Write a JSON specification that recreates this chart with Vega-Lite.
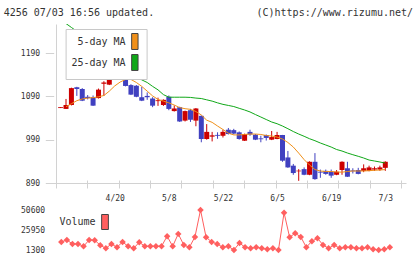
{
  "$schema": "https://vega.github.io/schema/vega-lite/v6.json",
  "background": "#ffffff",
  "padding": {"left": 3, "top": 8, "right": 5, "bottom": 2},
  "title": {
    "text": "4256 07/03 16:56 updated.\u00a0\u00a0\u00a0\u00a0\u00a0\u00a0\u00a0\u00a0\u00a0\u00a0\u00a0\u00a0\u00a0\u00a0\u00a0\u00a0\u00a0(C)https://www.rizumu.net/",
    "anchor": "start",
    "frame": "bounds",
    "dx": -16.7,
    "offset": 6,
    "font": "DejaVu Sans Mono",
    "fontSize": 10,
    "fontWeight": "normal",
    "color": "#333333"
  },
  "config": {
    "view": {"stroke": null},
    "axis": {
      "labelFont": "DejaVu Sans Mono",
      "labelFontSize": 8,
      "labelColor": "#333333",
      "labelOverlap": false,
      "tickColor": "#d2d2d2",
      "gridColor": "#d2d2d2",
      "domainColor": "#d2d2d2",
      "tickWidth": 1,
      "gridWidth": 1
    },
    "legend": {"labelFont": "DejaVu Sans Mono", "labelFontSize": 10, "labelColor": "#333333"}
  },
  "datasets": {
    "prices": [
      {"i": -1, "o": 1063, "h": 1065, "l": 1063, "c": 1065},
      {"i": 0, "o": 1061, "h": 1084, "l": 1061, "c": 1070, "ma5": 1066, "ma25": 1258, "v": 11200},
      {"i": 1, "o": 1070, "h": 1110, "l": 1069, "c": 1109, "ma5": 1073, "ma25": 1249, "v": 13700},
      {"i": 2, "o": 1111, "h": 1112, "l": 1091, "c": 1107, "ma5": 1080, "ma25": 1240, "v": 8750},
      {"i": 3, "o": 1107, "h": 1109, "l": 1079, "c": 1080, "ma5": 1084, "ma25": 1230, "v": 8750},
      {"i": 4, "o": 1089, "h": 1093, "l": 1083, "c": 1086, "ma5": 1086, "ma25": 1221, "v": 5900},
      {"i": 5, "o": 1088, "h": 1092, "l": 1068, "c": 1068.5, "ma5": 1087, "ma25": 1212, "v": 13700},
      {"i": 6, "o": 1086, "h": 1108, "l": 1085, "c": 1105.5, "ma5": 1089, "ma25": 1202, "v": 13350},
      {"i": 7, "o": 1119, "h": 1125, "l": 1091, "c": 1122, "ma5": 1092, "ma25": 1193, "v": 7140},
      {"i": 8, "o": 1117, "h": 1136, "l": 1116, "c": 1134, "ma5": 1102, "ma25": 1184, "v": 3400},
      {"i": 9, "o": 1137.6, "h": 1149, "l": 1137, "c": 1147, "ma5": 1114, "ma25": 1174, "v": 8750},
      {"i": 10, "o": 1141.5, "h": 1148, "l": 1131, "c": 1132, "ma5": 1123, "ma25": 1165, "v": 4650},
      {"i": 11, "o": 1130, "h": 1134, "l": 1113, "c": 1114, "ma5": 1129, "ma25": 1155, "v": 11240},
      {"i": 12, "o": 1116, "h": 1118, "l": 1093, "c": 1094, "ma5": 1129, "ma25": 1146, "v": 5900},
      {"i": 13, "o": 1114.5, "h": 1116, "l": 1088, "c": 1089, "ma5": 1122, "ma25": 1136, "v": 3400},
      {"i": 14, "o": 1088, "h": 1112, "l": 1079, "c": 1080, "ma5": 1113, "ma25": 1128, "v": 10860},
      {"i": 15, "o": 1091, "h": 1099, "l": 1082, "c": 1088, "ma5": 1102, "ma25": 1122, "v": 5900},
      {"i": 16, "o": 1085, "h": 1088, "l": 1065, "c": 1068.5, "ma5": 1091, "ma25": 1113, "v": 5900},
      {"i": 17, "o": 1079, "h": 1087, "l": 1068, "c": 1081, "ma5": 1083, "ma25": 1105, "v": 5900},
      {"i": 18, "o": 1070, "h": 1083, "l": 1068, "c": 1082, "ma5": 1079, "ma25": 1094, "v": 5900},
      {"i": 19, "o": 1089, "h": 1092, "l": 1058, "c": 1061, "ma5": 1075, "ma25": 1088, "v": 18300},
      {"i": 20, "o": 1056, "h": 1069, "l": 1055, "c": 1062, "ma5": 1070, "ma25": 1088, "v": 5900},
      {"i": 21, "o": 1065, "h": 1066, "l": 1031, "c": 1032, "ma5": 1064, "ma25": 1088, "v": 21170},
      {"i": 22, "o": 1034, "h": 1057, "l": 1032, "c": 1056, "ma5": 1061.5, "ma25": 1088, "v": 7500},
      {"i": 23, "o": 1058, "h": 1061, "l": 1031, "c": 1036, "ma5": 1060, "ma25": 1087.5, "v": 4650},
      {"i": 24, "o": 1034, "h": 1063, "l": 1021, "c": 1062, "ma5": 1055, "ma25": 1086, "v": 17450},
      {"i": 25, "o": 1045, "h": 1046, "l": 984, "c": 991.5, "ma5": 1047, "ma25": 1085, "v": 50600},
      {"i": 26, "o": 991.5, "h": 1026, "l": 990, "c": 1008, "ma5": 1035, "ma25": 1082, "v": 17070},
      {"i": 27, "o": 997, "h": 1008, "l": 986, "c": 1000, "ma5": 1030, "ma25": 1079, "v": 11240},
      {"i": 28, "o": 1001, "h": 1007, "l": 992, "c": 999, "ma5": 1021.5, "ma25": 1075, "v": 8750},
      {"i": 29, "o": 999, "h": 1013, "l": 995, "c": 1008, "ma5": 1013.5, "ma25": 1071.5, "v": 4650},
      {"i": 30, "o": 1013, "h": 1017, "l": 1002, "c": 1003, "ma5": 1005, "ma25": 1069, "v": 5900},
      {"i": 31, "o": 1012, "h": 1015, "l": 1002, "c": 1004, "ma5": 1001, "ma25": 1066.5, "v": 1300},
      {"i": 32, "o": 1007, "h": 1009, "l": 990, "c": 991.5, "ma5": 1001, "ma25": 1062.4, "v": 10000},
      {"i": 33, "o": 987.6, "h": 1004, "l": 987, "c": 1003, "ma5": 1002, "ma25": 1058.5, "v": 4650},
      {"i": 34, "o": 1008, "h": 1013, "l": 999, "c": 1002, "ma5": 1003, "ma25": 1054, "v": 3400},
      {"i": 35, "o": 1001.5, "h": 1003, "l": 989, "c": 990, "ma5": 1003, "ma25": 1048, "v": 4650},
      {"i": 36, "o": 993, "h": 999, "l": 984, "c": 991, "ma5": 1002, "ma25": 1042.3, "v": 3400},
      {"i": 37, "o": 1000.8, "h": 1002, "l": 988, "c": 994, "ma5": 999.6, "ma25": 1036.5, "v": 2170},
      {"i": 38, "o": 990, "h": 1010, "l": 989, "c": 996, "ma5": 998.5, "ma25": 1030.8, "v": 3400},
      {"i": 39, "o": 991.5, "h": 1008, "l": 991, "c": 1000.8, "ma5": 996, "ma25": 1026.8, "v": 1300},
      {"i": 40, "o": 1000.8, "h": 1001, "l": 939, "c": 941.5, "ma5": 991.5, "ma25": 1021.5, "v": 47250},
      {"i": 41, "o": 949, "h": 964, "l": 925, "c": 926, "ma5": 983.5, "ma25": 1015.3, "v": 17070},
      {"i": 42, "o": 930, "h": 934, "l": 909, "c": 913, "ma5": 973, "ma25": 1008.8, "v": 22000},
      {"i": 43, "o": 917, "h": 922, "l": 895, "c": 918.5, "ma5": 959, "ma25": 1003, "v": 17450},
      {"i": 44, "o": 922, "h": 926, "l": 908, "c": 909, "ma5": 944, "ma25": 997.8, "v": 4650},
      {"i": 45, "o": 909, "h": 940, "l": 908, "c": 939, "ma5": 931.5, "ma25": 992.2, "v": 12100},
      {"i": 46, "o": 939, "h": 959, "l": 897.5, "c": 899, "ma5": 921, "ma25": 987.6, "v": 15830},
      {"i": 47, "o": 916, "h": 921, "l": 902, "c": 914, "ma5": 917.7, "ma25": 982.3, "v": 7500},
      {"i": 48, "o": 918, "h": 921, "l": 909, "c": 911, "ma5": 916.5, "ma25": 977.7, "v": 3400},
      {"i": 49, "o": 916, "h": 921, "l": 902, "c": 907, "ma5": 916.5, "ma25": 973, "v": 7500},
      {"i": 50, "o": 909, "h": 920, "l": 908, "c": 916, "ma5": 915.4, "ma25": 967.3, "v": 3400},
      {"i": 51, "o": 920, "h": 940, "l": 909, "c": 939, "ma5": 915, "ma25": 963.8, "v": 4650},
      {"i": 52, "o": 924, "h": 939, "l": 904, "c": 904.5, "ma5": 916.5, "ma25": 959.2, "v": 4650},
      {"i": 53, "o": 919, "h": 924, "l": 912, "c": 917, "ma5": 917.7, "ma25": 955.3, "v": 3400},
      {"i": 54, "o": 920, "h": 925, "l": 910, "c": 911, "ma5": 917.7, "ma25": 951.6, "v": 3400},
      {"i": 55, "o": 918, "h": 933, "l": 915, "c": 924, "ma5": 917.7, "ma25": 947.7, "v": 4650},
      {"i": 56, "o": 918, "h": 930, "l": 917, "c": 926, "ma5": 918.4, "ma25": 943, "v": 2170},
      {"i": 57, "o": 921, "h": 928, "l": 918, "c": 924, "ma5": 919.3, "ma25": 940.8, "v": 1300},
      {"i": 58, "o": 921, "h": 930, "l": 918, "c": 926, "ma5": 920, "ma25": 938.5, "v": 2170},
      {"i": 59, "o": 925, "h": 940, "l": 918, "c": 939, "ma5": 921, "ma25": 936, "v": 4650}
    ]
  },
  "spacing": 27,
  "bounds": "flush",
  "resolve": {"scale": {"fill": "independent"}, "legend": {"fill": "independent"}},
  "vconcat": [
    {
      "width": 355,
      "height": 159,
      "data": {"name": "prices"},
      "encoding": {
        "x": {
          "field": "i",
          "type": "quantitative",
          "title": null,
          "scale": {"domain": [-1.85, 61.9], "nice": false, "zero": false},
          "axis": {
            "values": [-1.85, 3.94, 9, 9.74, 15.53, 19, 21.33, 27.12, 29, 32.92, 38.71, 39, 44.51, 49, 50.3, 56.1, 59, 61.9],
            "domain": false,
            "offset": -3,
            "tickSize": 8,
            "labelPadding": 6,
            "labelFlush": false,
            "labelBound": false,
            "tickOpacity": {"condition": {"test": "datum.value % 10 == 9", "value": 0}, "value": 1},
            "labelExpr": "datum.value == 9 ? '4/20' : datum.value == 19 ? '5/8' : datum.value == 29 ? '5/22' : datum.value == 39 ? '6/5' : datum.value == 49 ? '6/19' : datum.value == 59 ? '7/3' : ''",
            "grid": true,
            "gridOpacity": {"condition": {"test": "datum.value < 0", "value": 1}, "value": 0}
          }
        }
      },
      "layer": [
        {
          "mark": {"type": "rule", "strokeWidth": 1},
          "encoding": {
            "y": {
              "field": "l",
              "type": "quantitative",
              "title": null,
              "scale": {"domain": [890, 1257], "nice": false, "zero": false},
              "axis": {
                "values": [890, 990, 1090, 1190],
                "format": "d",
                "domain": false,
                "offset": -2.7,
                "tickSize": 8.4,
                "labelPadding": 5.7,
                "grid": true,
                "gridOpacity": {"condition": {"test": "datum.value == 890", "value": 1}, "value": 0}
              }
            },
            "y2": {"field": "h"},
            "color": {"condition": {"test": "datum.c >= datum.o", "value": "#cc0000"}, "value": "#4040c0"}
          }
        },
        {
          "mark": {"type": "bar", "width": 5},
          "encoding": {
            "y": {"field": "o", "type": "quantitative", "title": null},
            "y2": {"field": "c"},
            "color": {"condition": {"test": "datum.c >= datum.o", "value": "#cc0000"}, "value": "#4040c0"}
          }
        },
        {
          "mark": {"type": "line", "color": "#f0901a", "strokeWidth": 1, "clip": true},
          "encoding": {"y": {"field": "ma5", "type": "quantitative", "title": null}}
        },
        {
          "mark": {"type": "line", "color": "#10a818", "strokeWidth": 1, "clip": true},
          "encoding": {"y": {"field": "ma25", "type": "quantitative", "title": null}}
        },
        {
          "transform": [{"filter": "false"}],
          "mark": {"type": "point", "filled": true},
          "encoding": {
            "y": {"field": "c", "type": "quantitative", "title": null},
            "fill": {
              "datum": "5-day MA",
              "type": "nominal",
              "scale": {"domain": ["5-day MA", "25-day MA"], "range": ["#f0901a", "#10a818"]},
              "legend": {
                "orient": "none",
                "legendX": 14.6,
                "legendY": 5,
                "title": null,
                "fillColor": "#ffffff",
                "strokeColor": "#c8c8c8",
                "padding": 6.5,
                "rowPadding": 1,
                "labelAlign": "right",
                "labelOffset": -15.25,
                "symbolOffset": 56.75,
                "symbolType": "M-0.61,-1.52H0.61V1.52H-0.61Z",
                "symbolSize": 110,
                "symbolStrokeColor": "#444444",
                "symbolStrokeWidth": 1,
                "symbolOpacity": 1
              }
            }
          }
        }
      ]
    },
    {
      "width": 355,
      "height": 40,
      "data": {"name": "prices"},
      "encoding": {
        "x": {"field": "i", "type": "quantitative", "scale": {"domain": [-1.85, 61.9], "nice": false, "zero": false}, "axis": null},
        "y": {
          "field": "v",
          "type": "quantitative",
          "title": null,
          "scale": {"domain": [1300, 50600], "nice": false, "zero": false},
          "axis": {"values": [1300, 25950, 50600], "format": "d", "domain": false, "ticks": false, "labelPadding": 6.4, "labelOverlap": false, "grid": false}
        }
      },
      "layer": [
        {
          "mark": {"type": "line", "color": "#ff5f5f", "strokeWidth": 1, "point": {"shape": "diamond", "size": 42, "filled": true, "color": "#ff5f5f"}}
        },
        {
          "transform": [{"filter": "false"}],
          "mark": {"type": "point", "filled": true},
          "encoding": {
            "fill": {
              "datum": "Volume",
              "type": "nominal",
              "scale": {"domain": ["Volume"], "range": ["#ff5f5f"]},
              "legend": {
                "orient": "none",
                "legendX": 7.5,
                "legendY": 4,
                "title": null,
                "padding": 0,
                "labelAlign": "right",
                "labelOffset": -17.5,
                "symbolOffset": 38.5,
                "symbolType": "M-0.45,-1H0.45V1H-0.45Z",
                "symbolSize": 225,
                "symbolStrokeColor": "#444444",
                "symbolStrokeWidth": 1,
                "symbolOpacity": 1
              }
            }
          }
        }
      ]
    }
  ]
}
